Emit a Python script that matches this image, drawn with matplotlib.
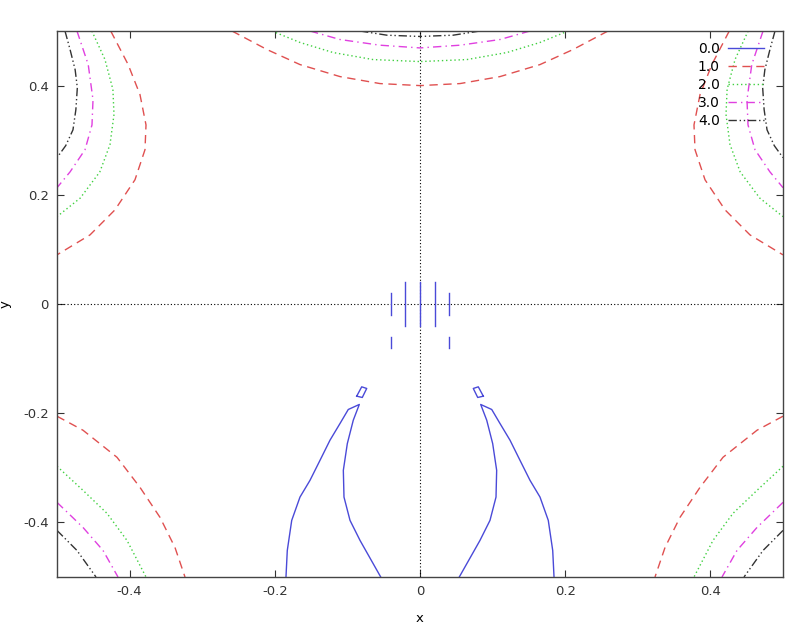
import matplotlib
matplotlib.use("Agg")
import matplotlib.pyplot as plt
import numpy as np

levels = ["0.0", "1.0", "2.0", "3.0", "4.0"]
colors = ["#4a4ad8", "#e05050", "#40d040", "#e040e0", "#333333"]
dashes = [None, (6, 4), (1, 2), (6, 3, 1, 3), (6, 2, 1, 2, 1, 2)]

# contour pieces (left half, the picture is mirror symmetric in x)
# level 4.0
c4_top_x = [-0.489, -0.482, -0.475, -0.472, -0.474, -0.478, -0.488, -0.5]
c4_top_y = [0.5, 0.466, 0.429, 0.396, 0.356, 0.319, 0.290, 0.268]
c4_bot_x = [-0.5, -0.4725, -0.4463]
c4_bot_y = [-0.4147, -0.4514, -0.5]
c4_mid_x = [-0.0826, -0.0455, 0.0]
c4_mid_y = [0.5, 0.4923, 0.490]
# level 3.0
c3_top_x = [-0.4725, -0.457, -0.4504, -0.4518, -0.4614, -0.482, -0.5]
c3_top_y = [0.5, 0.4385, 0.374, 0.328, 0.2826, 0.242, 0.213]
c3_bot_x = [-0.5, -0.4642, -0.4366, -0.416]
c3_bot_y = [-0.3633, -0.4092, -0.4514, -0.5]
c3_mid_x = [-0.1515, -0.1102, -0.0551, 0.0]
c3_mid_y = [0.5, 0.4844, 0.474, 0.469]
# level 2.0
c2_top_x = [-0.452, -0.434, -0.423, -0.4215, -0.427, -0.441, -0.468, -0.5]
c2_top_y = [0.5, 0.448, 0.393, 0.347, 0.292, 0.242, 0.194, 0.160]
c2_bot_x = [-0.5, -0.4642, -0.4311, -0.4036, -0.3774]
c2_bot_y = [-0.2972, -0.3413, -0.3835, -0.4330, -0.5]
c2_mid_x = [-0.2039, -0.1653, -0.1198, -0.0647, 0.0]
c2_mid_y = [0.5, 0.479, 0.4606, 0.4477, 0.444]
# level 1.0
c1_top_x = [-0.426, -0.402, -0.3857, -0.3774, -0.3788, -0.3926, -0.4201, -0.4545, -0.5]
c1_top_y = [0.5, 0.4385, 0.3835, 0.328, 0.2826, 0.2275, 0.1725, 0.1266, 0.090]
c1_bot_x = [-0.5, -0.4642, -0.4174, -0.3857, -0.3581, -0.3375, -0.3237]
c1_bot_y = [-0.2055, -0.2312, -0.2807, -0.3358, -0.3908, -0.4459, -0.5]
c1_mid_x = [-0.259, -0.2107, -0.1653, -0.1102, -0.0551, 0.0]
c1_mid_y = [0.5, 0.466, 0.4385, 0.4165, 0.4037, 0.4]
# level 0.0
c0_loop_x = [-0.1846, -0.1828, -0.1767, -0.1653, -0.1515, -0.1377, -0.1240, -0.1102,
             -0.0988, -0.0836, -0.0919, -0.1001, -0.1056, -0.1047, -0.0964, -0.0826, -0.0541]
c0_loop_y = [-0.5, -0.4514, -0.3963, -0.3536, -0.3229, -0.2862, -0.2495, -0.2189,
             -0.1932, -0.1840, -0.2128, -0.2556, -0.3046, -0.3536, -0.3963, -0.4330, -0.5]
c0_quad_x = [-0.0872, -0.0803, -0.0734, -0.0795, -0.0872]
c0_quad_y = [-0.1688, -0.1517, -0.1547, -0.1712, -0.1688]
c0_seg_x = [-0.04, -0.02, 0.0, 0.02, 0.04, -0.04, 0.04]
c0_seg_y0 = [-0.02, -0.04, -0.04, -0.04, -0.02, -0.08, -0.08]
c0_seg_y1 = [0.02, 0.04, 0.04, 0.04, 0.02, -0.06, -0.06]

pieces = {
    0: [(c0_loop_x, c0_loop_y), (c0_quad_x, c0_quad_y)],
    1: [(c1_top_x, c1_top_y), (c1_bot_x, c1_bot_y), (c1_mid_x, c1_mid_y)],
    2: [(c2_top_x, c2_top_y), (c2_bot_x, c2_bot_y), (c2_mid_x, c2_mid_y)],
    3: [(c3_top_x, c3_top_y), (c3_bot_x, c3_bot_y), (c3_mid_x, c3_mid_y)],
    4: [(c4_top_x, c4_top_y), (c4_bot_x, c4_bot_y), (c4_mid_x, c4_mid_y)],
}

plt.rcParams['font.family'] = ['DejaVu Sans']
fig = plt.figure(figsize=(7.99, 6.31), dpi=100)
ax = fig.add_axes([57 / 799, 54 / 631, 726 / 799, 546 / 631])

ax.axhline(0, color="black", lw=0.8, ls=(0, (1, 2)))
ax.axvline(0, color="black", lw=0.8, ls=(0, (1, 2)))

for i in range(len(levels)):
    kw = dict(color=colors[i], lw=1.0)
    if dashes[i] is not None:
        kw["dashes"] = dashes[i]
    first = True
    for px, py in pieces[i]:
        px = np.array(px)
        py = np.array(py)
        ax.plot(px, py, label=levels[i] if first else None, **kw)
        first = False
        ax.plot(-px, py, **kw)
    if i == 0:
        for sx, a, b in zip(c0_seg_x, c0_seg_y0, c0_seg_y1):
            ax.plot([sx, sx], [a, b], **kw)

ax.set_xlim(-0.5, 0.5)
ax.set_ylim(-0.5, 0.5)
ax.set_xticks([-0.4, -0.2, 0, 0.2, 0.4])
ax.set_yticks([-0.4, -0.2, 0, 0.2, 0.4])
ax.set_xticklabels(["-0.4", "-0.2", "0", "0.2", "0.4"])
ax.set_yticklabels(["-0.4", "-0.2", "0", "0.2", "0.4"])
ax.tick_params(direction="in", top=True, right=True, length=5, width=0.8,
               labelsize=9.5, colors="#333333", pad=6)
for s in ax.spines.values():
    s.set_color("#444444")
    s.set_linewidth(1.0)
ax.set_xlabel("x", fontsize=9.5, labelpad=10)
ax.set_ylabel("y", fontsize=9.5, labelpad=8)

leg = ax.legend(loc="upper right", bbox_to_anchor=(0.982, 0.99), frameon=False,
                markerfirst=False, fontsize=10, handlelength=2.6,
                labelspacing=0.28, handletextpad=0.6, borderaxespad=0)

fig.savefig("out.png", dpi=100)
